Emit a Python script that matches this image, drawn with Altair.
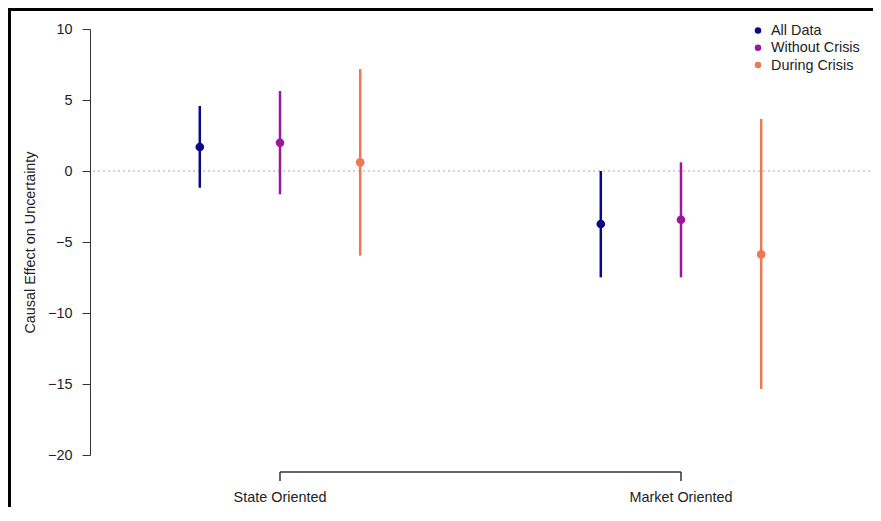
import altair as alt
import pandas as pd

# ---- data ----
categories = ["State Oriented", "Market Oriented"]
series = ["All Data", "Without Crisis", "During Crisis"]
colors = ["#0D0887", "#9C179E", "#ED7953"]

estimate_state = [1.69, 1.99, 0.61]
lower_state = [-1.18, -1.64, -5.96]
upper_state = [4.58, 5.63, 7.18]

estimate_market = [-3.73, -3.43, -5.87]
lower_market = [-7.49, -7.49, -15.35]
upper_market = [0.00, 0.61, 3.66]

y_ticks = [-20, -15, -10, -5, 0, 5, 10]

# ---- table ----
offsets = [-0.2, 0.0, 0.2]
rows = []
for gi, (cat, est, lo, hi) in enumerate([
    (categories[0], estimate_state, lower_state, upper_state),
    (categories[1], estimate_market, lower_market, upper_market),
]):
    for si, s in enumerate(series):
        rows.append({"category": cat, "series": s, "xpos": gi + 1 + offsets[si],
                     "estimate": est[si], "lower": lo[si], "upper": hi[si]})
df = pd.DataFrame(rows)
cat_df = pd.DataFrame({"category": categories, "xpos": [1, 2]})
zero_df = pd.DataFrame({"estimate": [0]})

FONT = "Liberation Sans"
FS = 14.4
W, H = 783, 426

xscale = alt.Scale(domain=[0.5262, 2.4788], nice=False, zero=False)
yscale = alt.Scale(domain=[-20, 10], nice=False, zero=False)
y_axis = alt.Axis(values=y_ticks, tickSize=8, labelPadding=10, labelFontSize=FS,
                  labelFont=FONT, labelColor="#222", domainColor="#333",
                  tickColor="#333", domainWidth=1, tickWidth=1, grid=False,
                  title="Causal Effect on Uncertainty", titleFont=FONT,
                  titleFontSize=FS, titleFontWeight="normal", titleColor="#222",
                  titleX=-60, titleY=H / 2, titleAngle=270,
                  titleBaseline="middle", titleAlign="center")

X = alt.X("xpos:Q", scale=xscale, axis=None)
color_scale = alt.Scale(domain=series, range=colors)

zero_line = alt.Chart(zero_df).mark_rule(
    color="#aaaaaa", strokeDash=[2, 3], strokeWidth=1
).encode(y=alt.Y("estimate:Q", scale=yscale, axis=y_axis),
         x=alt.value(3), x2=alt.value(W))

bars = alt.Chart(df).mark_rule(strokeWidth=2.5).encode(
    x=X,
    y=alt.Y("lower:Q", scale=yscale, axis=y_axis),
    y2="upper:Q",
    color=alt.Color("series:N", scale=color_scale, legend=None),
)

points = alt.Chart(df).mark_circle(size=75, opacity=1).encode(
    x=X,
    y=alt.Y("estimate:Q", scale=yscale, axis=y_axis),
    color=alt.Color("series:N", scale=color_scale, legend=None),
)

bracket = alt.Chart(cat_df).mark_rule(color="#333", strokeWidth=1.5).encode(
    x=alt.X("min(xpos):Q", scale=xscale, axis=None),
    x2="max(xpos):Q",
    y=alt.value(443),
)
bracket_ticks = alt.Chart(cat_df).mark_rule(color="#333", strokeWidth=1.5).encode(
    x=X, y=alt.value(443), y2=alt.value(452),
)
cat_labels = alt.Chart(cat_df).mark_text(
    font=FONT, fontSize=FS, color="#222", baseline="middle", align="center"
).encode(x=X, text="category:N", y=alt.value(469))

# manual legend (top right)
legend_layers = []
for i, (s, c) in enumerate(zip(series, colors)):
    ldf = pd.DataFrame({"series": [s]})
    yy = 1.5 + i * 17.3
    legend_layers.append(alt.Chart(ldf).mark_circle(size=42, opacity=1, color=c).encode(
        x=alt.value(668), y=alt.value(yy)))
    legend_layers.append(alt.Chart(ldf).mark_text(
        font=FONT, fontSize=FS, color="#222", align="left", baseline="middle"
    ).encode(x=alt.value(681), y=alt.value(yy + 0.5), text="series:N"))

border_left = alt.Chart(zero_df).mark_rule(color="black", strokeWidth=3).encode(
    x=alt.value(-80.5), y=alt.value(-21), y2=alt.value(480))
border_top = alt.Chart(zero_df).mark_rule(color="black", strokeWidth=3).encode(
    y=alt.value(-19.5), x=alt.value(-82), x2=alt.value(W))

chart = alt.layer(
    zero_line, bars, points, bracket, bracket_ticks, cat_labels,
    *legend_layers, border_left, border_top
).properties(
    width=W, height=H,
    background="white",
    autosize=alt.AutoSizeParams(type="none"),
    padding={"left": 82, "top": 21, "right": 0, "bottom": 52},
).configure_view(stroke=None).configure_axis(grid=False)

chart.save("out.html", embed_options={"renderer": "svg", "actions": False})
